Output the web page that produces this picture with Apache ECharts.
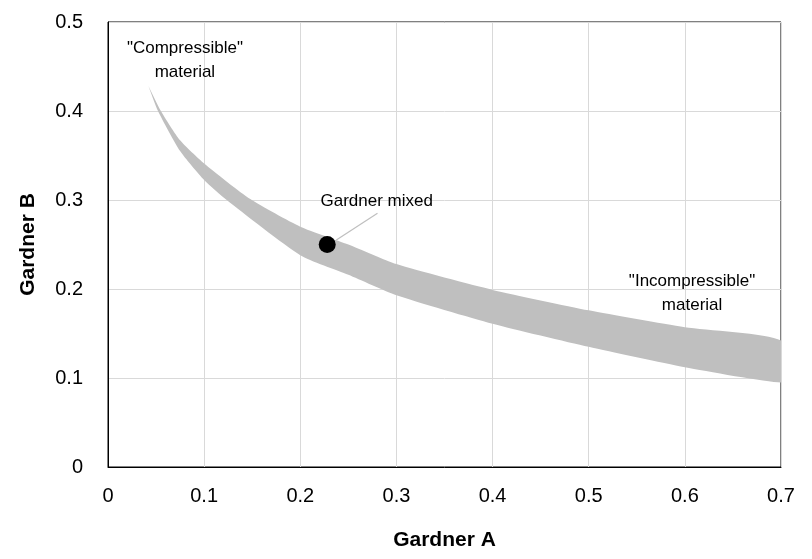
<!DOCTYPE html>
<html>
<head>
<meta charset="utf-8">
<script src="https://cdn.jsdelivr.net/npm/echarts@6/dist/echarts.min.js"></script>
<style>
  html, body { margin: 0; padding: 0; background: #fff; }
  #chart { width: 812px; height: 559px; }
</style>
</head>
<body>
<div id="chart"></div>
<script>
// band edges (Gardner A -> Gardner B)
const upperA = [0.042, 0.055, 0.075, 0.1, 0.148, 0.2, 0.25, 0.3, 0.4, 0.5, 0.6, 0.7];
const upperB = [0.428, 0.40, 0.367, 0.341, 0.301, 0.27, 0.25, 0.228, 0.199, 0.176, 0.157, 0.142];
const lowerA = [0.042, 0.052, 0.075, 0.1, 0.1235, 0.2, 0.25, 0.3, 0.4, 0.5, 0.6, 0.7];
const lowerB = [0.428, 0.40, 0.355, 0.3225, 0.30, 0.238, 0.216, 0.193, 0.161, 0.135, 0.112, 0.095];

// the mixed point
const mixedA = [0.228];
const mixedB = [0.25];

const xTicks = [0, 0.1, 0.2, 0.3, 0.4, 0.5, 0.6, 0.7];
const yTicks = [0, 0.1, 0.2, 0.3, 0.4, 0.5];

// polygon: upper edge left->right, then lower edge right->left
const bandPoly = upperA.map((a, i) => [a, upperB[i]])
  .concat(lowerA.map((a, i) => [a, lowerB[i]]).reverse());

const FONT = 'Liberation Sans, Arial, sans-serif';

let myChart = echarts.init(document.getElementById('chart'));

const option = {
  animation: false,
  grid: {
    left: 108, right: 31, top: 22, bottom: 92,
    show: true, borderColor: '#000', borderWidth: 1
  },
  xAxis: {
    type: 'value',
    min: xTicks[0], max: xTicks[xTicks.length - 1], interval: 0.1,
    name: 'Gardner A',
    nameLocation: 'middle',
    nameGap: 63,
    nameTextStyle: { fontFamily: FONT, fontSize: 21, fontWeight: 'bold', color: '#000' },
    axisLine: { show: true, lineStyle: { color: '#000', width: 1 } },
    axisTick: { show: false },
    axisLabel: { fontFamily: FONT, fontSize: 20, color: '#000', margin: 19 },
    splitLine: { show: true, lineStyle: { color: '#d9d9d9', width: 1 } }
  },
  yAxis: {
    type: 'value',
    min: yTicks[0], max: yTicks[yTicks.length - 1], interval: 0.1,
    name: 'Gardner B',
    nameLocation: 'middle',
    nameGap: 69,
    nameTextStyle: { fontFamily: FONT, fontSize: 21, fontWeight: 'bold', color: '#000' },
    axisLine: { show: true, lineStyle: { color: '#000', width: 1 } },
    axisTick: { show: false },
    axisLabel: { fontFamily: FONT, fontSize: 20, color: '#000', margin: 25 },
    splitLine: { show: true, lineStyle: { color: '#d9d9d9', width: 1 } }
  },
  series: [
    {
      type: 'custom',
      silent: true,
      clip: true,
      data: bandPoly,
      renderItem: function (params, api) {
        if (params.dataIndex > 0) return;
        const pts = bandPoly.map(p => api.coord(p));
        const xs = pts.map(p => p[0]), ys = pts.map(p => p[1]);
        const box = [[Math.min(...xs), Math.min(...ys)], [Math.max(...xs), Math.max(...ys)]];
        return {
          type: 'polygon',
          shape: { points: pts, smooth: 0.2, smoothConstraint: box },
          style: { fill: '#bfbfbf' }
        };
      },
      z: 2
    },
    {
      // leader line to the mixed label
      type: 'line',
      data: [[0.2375, 0.2551], [0.2803, 0.2851]],
      symbol: 'none',
      lineStyle: { color: '#bfbfbf', width: 1.2 },
      z: 3
    },
    {
      type: 'scatter',
      data: mixedA.map((a, i) => [a, mixedB[i]]),
      symbol: 'circle',
      symbolSize: 17,
      itemStyle: { color: '#000', opacity: 1 },
      z: 4
    },
    {
      // annotation labels
      type: 'scatter',
      symbolSize: 0,
      silent: true,
      itemStyle: { opacity: 1 },
      label: {
        show: true,
        position: 'inside',
        formatter: p => p.data.text,
        fontFamily: FONT,
        fontSize: 17,
        lineHeight: 24,
        color: '#000',
        align: 'center'
      },
      data: [
        { value: [0.08, 0.457], text: '"Compressible"\nmaterial' },
        { value: [0.2795, 0.299], text: 'Gardner mixed' },
        { value: [0.6075, 0.1955], text: '"Incompressible"\nmaterial' }
      ],
      z: 5
    }
  ]
};

myChart.setOption(option);
</script>
</body>
</html>
